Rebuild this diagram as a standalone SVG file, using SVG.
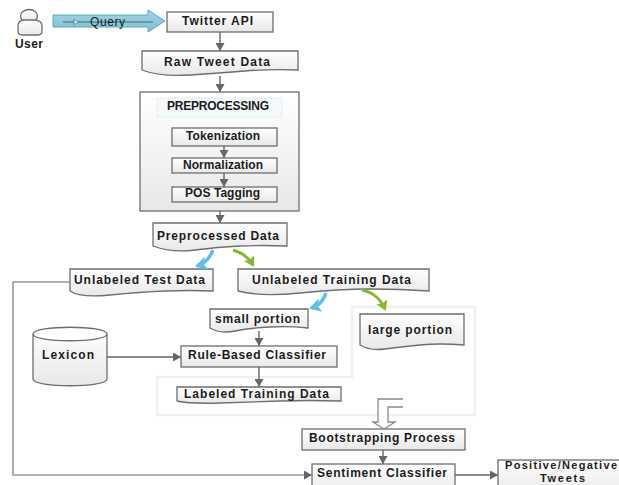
<svg xmlns="http://www.w3.org/2000/svg" width="619" height="485" viewBox="0 0 619 485">
<style>
.n{fill:url(#g);stroke:#6e6e6e;stroke-width:1.3}
.t{font-family:"Liberation Sans",Arial,sans-serif;font-weight:bold;font-size:12px;fill:#1c1c1c;text-anchor:start}
.r{font-size:11px}
.c{fill:none;stroke:#666;stroke-width:1.4}
.e{fill:none;stroke:#999;stroke-width:1.6}
</style>
<defs>
<linearGradient id="g" x1="0" y1="0" x2="0" y2="1"><stop offset="0" stop-color="#fff"/><stop offset="1" stop-color="#e8e8e8"/></linearGradient>
<linearGradient id="q" x1="0" y1="0" x2="0" y2="1"><stop offset="0" stop-color="#a5d5e2"/><stop offset="1" stop-color="#7fc0d2"/></linearGradient>
<marker id="a" markerUnits="userSpaceOnUse" markerWidth="10" markerHeight="9" refX="8" refY="4.5" orient="auto"><path d="M0 0L8 4.5L0 9Z" fill="#666"/></marker>
<marker id="b" markerUnits="userSpaceOnUse" markerWidth="18" markerHeight="14" refX="10" refY="7" orient="auto"><path d="M0 0L12 7L0 14L3 7Z" fill="#5fbfe6"/></marker>
<marker id="h" markerUnits="userSpaceOnUse" markerWidth="14" markerHeight="12" refX="8" refY="6" orient="auto"><path d="M0 0L10 6L0 12L2 6Z" fill="#86b92f"/></marker>
</defs>
<rect width="619" height="485" fill="#fff"/>
<g id="halo"><path d="M352 307H475V415H157V377H352Z" fill="none" stroke="#f0f0f0" stroke-width="2.500"/></g>
<g id="user"><ellipse cx="29" cy="16" rx="8.500" ry="6.500" class="n"/><path class="n" d="M18 26Q18 20 25 20H33Q42 20 42 26V31Q42 35 38 35H22Q18 35 18 31Z"/><text class="t" x="15" y="48" textLength="28">User</text></g>
<g id="twitter"><rect class="n" x="167" y="12" width="106" height="20"/><text class="t" x="182" y="25" textLength="71">Twitter API</text></g>
<g id="raw"><path class="n" d="M142 51H298V70Q270 69 245 71T190 75T142 70Z"/><text class="t" x="164" y="66" textLength="106">Raw Tweet Data</text></g>
<g id="preprocessing"><rect class="n" x="140" y="92" width="159" height="119"/><rect x="157" y="98" width="125" height="19" fill="#f4f9fb" stroke="#e6eef2"/><text class="t" x="167" y="110" textLength="102">PREPROCESSING</text></g>
<g id="tokenization"><rect class="n" x="172" y="128" width="105" height="18"/><text class="t" x="186" y="140" textLength="74">Tokenization</text></g>
<g id="normalization"><rect class="n" x="172" y="158" width="105" height="15"/><text class="t" x="183" y="169" textLength="80">Normalization</text></g>
<g id="pos"><rect class="n" x="172" y="187" width="105" height="15"/><text class="t" x="185" y="197" textLength="75">POS Tagging</text></g>
<g id="preprocessed"><path class="n" d="M153 223H287V246Q262 245 240 246T195 250T153 246Z"/><text class="t" x="157" y="240" textLength="122">Preprocessed Data</text></g>
<g id="test"><path class="n" d="M70 269H213V291Q190 290 165 291T110 295T70 291Z"/><text class="t" x="74" y="284" textLength="131">Unlabeled Test Data</text></g>
<g id="training"><path class="n" d="M238 269H429V291Q400 289 370 289T300 293T238 291Z"/><text class="t" x="252" y="284" textLength="159">Unlabeled Training Data</text></g>
<g id="small"><path class="n" d="M210 309H308V328Q290 326 270 327T235 331T210 328Z"/><text class="t" x="215" y="323" textLength="85">small portion</text></g>
<g id="large"><path class="n" d="M360 314H464V345Q440 343 420 345T385 349T360 345Z"/><text class="t" x="368" y="334" textLength="84">large portion</text></g>
<g id="rule"><rect class="n" x="181" y="346" width="156" height="21"/><text class="t" x="188" y="359" textLength="138">Rule-Based Classifier</text></g>
<g id="labeled"><path class="n" d="M177 387H341V401Q310 400 280 401T220 403T177 401Z"/><text class="t" x="184" y="398" textLength="145">Labeled Training Data</text></g>
<g id="lexicon"><path class="n" d="M33 334C33 325 107 325 107 334V379C107 388 33 388 33 379Z"/><path d="M33 334C33 343 107 343 107 334" fill="#fff" stroke="#6e6e6e" stroke-width="1.300"/><text class="t" x="42" y="359" textLength="52">Lexicon</text></g>
<g id="bootstrapping"><rect class="n" x="302" y="429" width="163" height="21"/><text class="t" x="309" y="442" textLength="146">Bootstrapping Process</text></g>
<g id="sentiment"><rect class="n" x="312" y="464" width="143" height="30"/><text class="t" x="317" y="477" textLength="130">Sentiment Classifier</text></g>
<g id="result"><rect class="n" x="498" y="460" width="130" height="34"/><text class="t r" x="505" y="469" textLength="112">Positive/Negative</text><text class="t r" x="540" y="482" textLength="45">Tweets</text></g>
<g id="connectors">
<path class="c" marker-end="url(#a)" d="M220 32V51"/>
<path class="c" marker-end="url(#a)" d="M220 76V92"/>
<path class="c" marker-end="url(#a)" d="M224 146V158"/>
<path class="c" marker-end="url(#a)" d="M224 173V187"/>
<path class="c" marker-end="url(#a)" d="M220 211V223"/>
<path class="c" marker-end="url(#a)" d="M259 331V346"/>
<path class="c" marker-end="url(#a)" d="M259 367V387"/>
<path class="c" marker-end="url(#a)" d="M107 357H181"/>
<path class="c" marker-end="url(#a)" d="M383 450V464"/>
<path class="c" marker-end="url(#a)" d="M455 475H498"/>
<path class="e" marker-end="url(#a)" d="M70 282H13V475H312"/>
<path d="M213 250C209 260 204 264 197 266" fill="none" stroke="#5fbfe6" stroke-width="3.500" marker-end="url(#b)"/>
<path d="M233 250C243 253 249 258 253 265" fill="none" stroke="#86b92f" stroke-width="3" marker-end="url(#h)"/>
<path d="M326 293C322 303 318 306 311 308" fill="none" stroke="#5fbfe6" stroke-width="3.500" marker-end="url(#b)"/>
<path d="M362 290C373 292 381 300 385 309" fill="none" stroke="#86b92f" stroke-width="3" marker-end="url(#h)"/>
<path d="M403 399H378V422H373L384 429L395 422H388V407H403" fill="#fff" stroke="#8a8a8a" stroke-width="1.300"/>
<path d="M148 15V10L165 21L148 32V27H53V15Z" fill="url(#q)" stroke="#58a9c2" stroke-width="1"/>
<path d="M63 22H153" stroke="#3c6a78" stroke-width="1" fill="none"/>
<path d="M74 19.500L79 22L74 24.500Z" fill="#d9f0f5" stroke="#3c6a78" stroke-width=".6"/>
<text x="90" y="26" style="font-family:'Liberation Sans',Arial,sans-serif;font-size:12px;fill:#1c1c1c" textLength="35">Query</text>
</g>
</svg>
